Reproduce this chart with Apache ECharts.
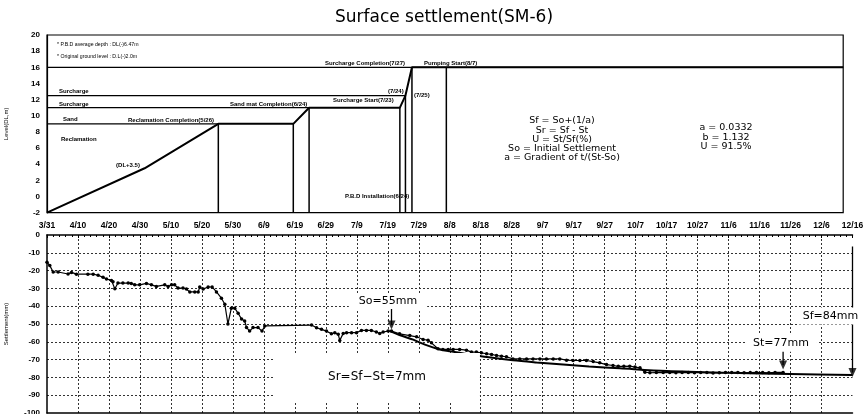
<!DOCTYPE html>
<html><head><meta charset="utf-8">
<script src="https://cdn.jsdelivr.net/npm/echarts@6/dist/echarts.min.js"></script>
<style>html,body{margin:0;padding:0;background:#fff}#c{width:866px;height:414px}</style>
</head><body><div id="c"></div>
<script>
// x tick labels (every 10 days from 3/31)
const dateLabels = ['3/31','4/10','4/20','4/30','5/10','5/20','5/30','6/9','6/19','6/29','7/9','7/19','7/29','8/8','8/18','8/28','9/7','9/17','9/27','10/7','10/17','10/27','11/6','11/16','11/26','12/6','12/16'];

// top panel: fill / surcharge history (days since 3/31, level DL m)
const fillDays   = [0, 31.5, 55.3, 79.5, 84.6, 113.9, 115.7, 117.8, 257];
const fillLevels = [-2, 3.5, 9, 9, 11, 11, 12.5, 16, 16];
const layerLevels  = [9, 11, 12.5, 16];
const layerEndDays = [55.3, 84.6, 115.7, 257];
const dropDays = [55.3, 79.5, 84.6, 113.9, 115.7, 117.8, 128.9];
const dropTops = [9, 9, 11, 11, 12.5, 16, 16];

// bottom panel: measured settlement (mm)
const measDays = [0,0.9,2.0,3.6,6.8,7.9,9.5,13.2,14.9,16.5,18.1,19.2,20.8,21.3,21.9,22.9,24.5,26.2,27.2,28.3,29.9,32.1,33.7,35.3,38.0,39.1,40.2,41.2,42.3,43.9,45.0,46.1,47.7,48.8,49.3,50.4,52.0,53.3,54.7,56.3,57.4,58.4,59.5,60.6,61.7,62.8,63.8,64.4,65.4,66.5,68.1,69.4,70.3,
  85.4,87.0,88.6,90.2,91.8,92.9,94.0,94.5,95.6,96.7,98.3,99.9,101.5,103.1,104.7,106.3,107.4,108.5,110.1,111.2,113.8,117.1,119.3,121.4,123.0,124.1,126.2,127.8,129.5,131.1,133.2,135.4,137.0,138.6,140.2,141.9,143.5,145.1,146.7,148.3,150.4,152.6,154.8,156.9,159.1,161.2,163.4,165.5,167.7,169.8,172.0,174.1,176.3,178.4,180.6,182.7,184.4,186.2,188.1,189.8,191.4,193.0,194.6,196.7,198.9,201,203,205,207,209,211,213,215,217,219,221,223,225,227,229,231,233,235,237.6];
const measVals = [-15.3,-17.2,-20.8,-20.8,-21.9,-21.0,-22.0,-22.0,-22.0,-22.6,-23.8,-24.7,-25.5,-26.2,-30.2,-27.0,-27.0,-27.0,-27.2,-28.0,-28.0,-27.2,-28.0,-28.9,-28.0,-28.9,-28.0,-28.0,-29.8,-29.8,-30.4,-32.0,-32.0,-32.0,-29.2,-30.4,-29.2,-29.2,-32.0,-35.5,-38.9,-50.0,-41.1,-41.1,-44.0,-47.2,-48.3,-51.9,-54.0,-52.0,-52.0,-54.0,-51.1,
  -50.6,-52.1,-53.0,-54.0,-55.5,-54.9,-55.8,-59.2,-55.3,-54.9,-54.9,-54.9,-53.6,-53.6,-53.6,-54.5,-55.3,-54.5,-54.0,-54.0,-55.5,-56.5,-57.2,-58.7,-59.1,-60.6,-63.9,-64.3,-64.3,-64.3,-64.3,-64.7,-65.8,-65.8,-66.2,-66.7,-67.1,-67.7,-68.1,-68.4,-69.6,-69.6,-69.6,-69.6,-69.6,-69.6,-69.6,-69.6,-70.3,-70.5,-70.5,-70.5,-71.1,-71.8,-72.8,-73.3,-73.8,-73.8,-73.7,-74.2,-74.6,-77.1,-77.4,-77.3,-77.3,-77.2,-77.4,-77.3,-77.2,-77.4,-77.3,-77.3,-77.5,-77.4,-77.3,-77.3,-77.2,-77.4,-77.3,-77.2,-77.3,-77.4,-77.2,-77.2];

// fitted (hyperbolic) settlement curve
const fitDays = [110.6,114,118.2,122,126.2,130,135.4,142,150.4,158,166.6,175,184.9,200,220,240,260];
const fitVals = [-54.0,-56.3,-58.8,-61.6,-64.0,-65.3,-66.8,-68.6,-70.4,-71.6,-72.8,-73.9,-74.9,-76.4,-77.4,-78.1,-78.7];

// annotation arrows (So, St, Sf): shaft start and arrow-head centre
const arrowDays  = [111.2, 237.6, 260];
const arrowFrom  = [-41.5, -64.5, -6.5];
const arrowHeads = [-50.5, -73, -77.2];

const zip = (a, b) => a.map((v, i) => [v, b[i]]);
const black = '#000';
const baseLine = (xi, yi, data, w) => ({
  type: 'line', xAxisIndex: xi, yAxisIndex: yi, data, symbol: 'none',
  lineStyle: { color: black, width: w }, silent: true, animation: false
});

const series = [];
series.push(baseLine(0, 0, zip(fillDays, fillLevels), 2));
layerLevels.forEach((L, i) => series.push(baseLine(0, 0, [[0, L], [layerEndDays[i], L]], 1.3)));
dropDays.forEach((d, i) => series.push(baseLine(0, 0, [[d, dropTops[i]], [d, -2]], 1.5)));

series.push({
  type: 'line', xAxisIndex: 1, yAxisIndex: 1, data: zip(measDays, measVals),
  symbol: 'circle', symbolSize: 3.5, itemStyle: { color: black },
  lineStyle: { color: black, width: 1.2 }, silent: true, animation: false, z: 3
});
series.push({
  type: 'line', xAxisIndex: 1, yAxisIndex: 1, data: zip(fitDays, fitVals),
  symbol: 'none', smooth: 0.3, lineStyle: { color: black, width: 2 }, silent: true, animation: false, z: 2
});
arrowDays.forEach((d, i) => {
  const s = baseLine(1, 1, [[d, arrowFrom[i]], [d, arrowHeads[i]]], 1.3);
  s.z = 4;
  series.push(s);
});
series.push({
  type: 'scatter', xAxisIndex: 1, yAxisIndex: 1, data: zip(arrowDays, arrowHeads),
  symbol: 'triangle', symbolRotate: 180, symbolSize: [8, 9], itemStyle: { color: black },
  silent: true, animation: false, z: 5
});

const tx = (text, x, y, size, opts) => Object.assign({
  type: 'text', x, y, z: 100, silent: true,
  style: Object.assign({ text, fontSize: size, fontFamily: 'Liberation Sans, Arial', fill: black,
    textAlign: 'left', textVerticalAlign: 'middle' }, (opts || {}))
});
const bold = { fontWeight: 'bold' };
const box = (pad) => ({ fontFamily: 'DejaVu Sans', textAlign: 'center', backgroundColor: '#fff', padding: pad });
const fml = { fontFamily: 'DejaVu Sans', textAlign: 'center' };

const graphics = [
  tx('Surface settlement(SM-6)', 444, 18, 17, { fontFamily: 'DejaVu Sans', textAlign: 'center' }),
  tx('* P.B.D average depth : DL(-)6.47m', 57, 45, 5.2),
  tx('* Original ground level : D.L(-)2.0m', 57, 56.5, 5.2),
  tx('Surcharge', 59, 91.7, 6, bold),
  tx('Surcharge', 59, 104.7, 6, bold),
  tx('Sand', 63, 119, 6, bold),
  tx('Reclamation', 61, 139.3, 6, bold),
  tx('(DL+3.5)', 128, 165, 6, Object.assign({ textAlign: 'center' }, bold)),
  tx('Reclamation Completion(5/26)', 128, 120.7, 6, bold),
  tx('Sand mat Completion(6/24)', 230, 104, 6, bold),
  tx('Surcharge Start(7/23)', 333, 100.7, 6, bold),
  tx('(7/24)', 388, 91, 6, bold),
  tx('(7/25)', 414, 95.3, 6, bold),
  tx('Surcharge Completion(7/27)', 325, 63.3, 6, bold),
  tx('Pumping Start(8/7)', 424, 63.3, 6, bold),
  tx('P.B.D Installation(6/24)', 345, 196.7, 6, bold),
  tx('Sf = So+(1/a)', 562, 121, 9.5, fml),
  tx('Sr = Sf - St', 562, 130.2, 9.5, fml),
  tx('U = St/Sf(%)', 562, 139.4, 9.5, fml),
  tx('So = Initial Settlement', 562, 148.6, 9.5, fml),
  tx('a = Gradient of t/(St-So)', 562, 157.8, 9.5, fml),
  tx('a = 0.0332', 726, 127.7, 9.5, fml),
  tx('b = 1.132', 726, 137.3, 9.5, fml),
  tx('U = 91.5%', 726, 146.7, 9.5, fml),
  tx('So=55mm', 388, 301.5, 11, box([2, 10])),
  tx('Sr=Sf\u2212St=7mm', 377, 377, 12, box([18, 54])),
  tx('St=77mm', 781, 343.3, 11, box([3, 8])),
  tx('Sf=84mm', 830.5, 316, 11, box([3, 4]))
];

const axisLbl = { fontSize: 8, fontWeight: 'bold', color: black, fontFamily: 'Liberation Sans, Arial' };
const option = {
  backgroundColor: '#fff',
  animation: false,
  grid: [
    { left: 47, top: 35, width: 796.2, height: 177.7, show: true, borderColor: black, borderWidth: 1.2, containLabel: false, outerBoundsMode: 'none' },
    { left: 47, top: 235, width: 805.5, height: 178, containLabel: false, outerBoundsMode: 'none' }
  ],
  xAxis: [
    { type: 'value', gridIndex: 0, min: 0, max: 257, interval: 10,
      axisLine: { show: false }, axisTick: { show: false }, axisLabel: { show: false }, splitLine: { show: false } },
    { type: 'value', gridIndex: 1, min: 0, max: 260, interval: 10, position: 'top',
      axisLine: { show: true, onZero: false, lineStyle: { color: black, width: 1.5 } },
      axisTick: { show: true, inside: true, length: 3, lineStyle: { color: black } },
      minorTick: { show: true, splitNumber: 5, length: 2, lineStyle: { color: black } },
      axisLabel: Object.assign({ margin: 5, formatter: v => dateLabels[Math.round(v / 10)] }, axisLbl, { fontSize: 8.5 }),
      splitLine: { show: true, showMinLine: false, showMaxLine: false, lineStyle: { color: '#333', width: 1, type: [2, 2] } } },
    { type: 'value', gridIndex: 1, min: 0, max: 260, position: 'bottom',
      axisLine: { show: true, onZero: false, lineStyle: { color: black, width: 1.5 } },
      axisTick: { show: false }, axisLabel: { show: false }, splitLine: { show: false } }
  ],
  yAxis: [
    { type: 'value', gridIndex: 0, min: -2, max: 20, interval: 2,
      name: 'Level(DL,m)', nameLocation: 'middle', nameRotate: 90, nameGap: 38,
      nameTextStyle: { fontSize: 6, color: black, fontFamily: 'Liberation Sans, Arial' },
      axisLine: { show: true, lineStyle: { color: black, width: 1.2 } }, axisTick: { show: false },
      axisLabel: Object.assign({ margin: 7 }, axisLbl), splitLine: { show: false } },
    { type: 'value', gridIndex: 1, min: -100, max: 0, interval: 10,
      name: 'Settlement(mm)', nameLocation: 'middle', nameRotate: 90, nameGap: 38,
      nameTextStyle: { fontSize: 6, color: black, fontFamily: 'Liberation Sans, Arial' },
      axisLine: { show: true, onZero: false, lineStyle: { color: black, width: 1.5 } }, axisTick: { show: false },
      axisLabel: Object.assign({ margin: 7 }, axisLbl),
      splitLine: { show: true, showMinLine: false, showMaxLine: false, lineStyle: { color: '#333', width: 1, type: [2, 2] } } }
  ],
  series,
  graphic: graphics
};
const chart = echarts.init(document.getElementById('c'), null, { renderer: 'canvas' });
chart.setOption(option);
</script></body></html>
